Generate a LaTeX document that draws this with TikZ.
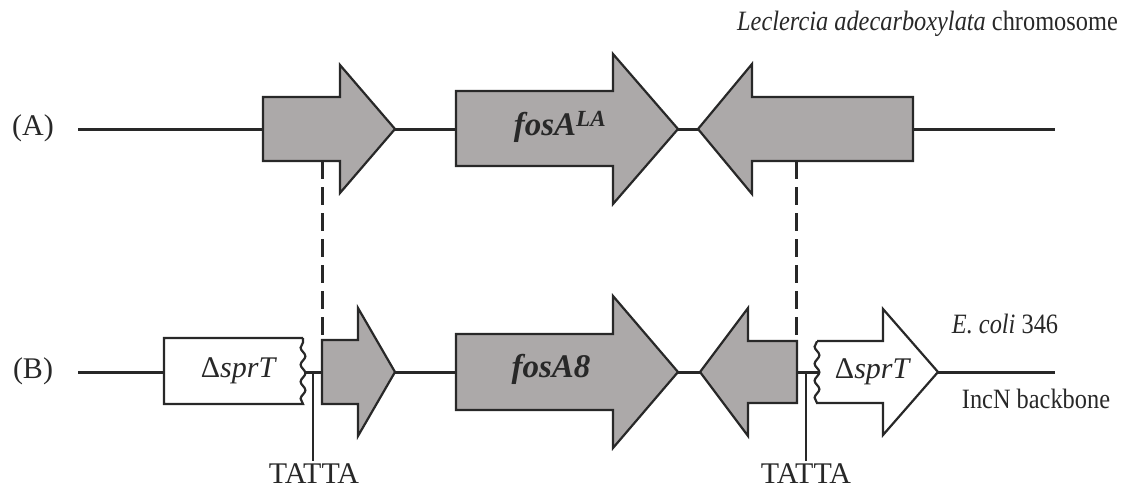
\documentclass[tikz,border=0pt]{standalone}
\usepackage{fontspec}
\setmainfont{Liberation Serif}
\newfontfamily\narrowserif{Liberation Serif}[FakeStretch=0.87]
\usetikzlibrary{decorations.pathmorphing}

\definecolor{genegray}{RGB}{172,169,169}
\definecolor{inkgray}{RGB}{40,40,40}

\tikzset{
  backbone/.style={draw=inkgray, line width=3pt},
  gene/.style={draw=inkgray, line width=2.2pt, fill=genegray, line join=miter},
  truncated/.style={gene, fill=white},
  wavy/.style={decoration={snake, amplitude=2.4pt, segment length=17pt}},
  homology/.style={draw=inkgray, line width=3pt, dash pattern=on 18pt off 8pt},
  tick/.style={draw=inkgray, line width=2.4pt},
  rowlabel/.style={font=\fontsize{30}{36}\selectfont, text=inkgray},
  genelabel/.style={font=\fontsize{33}{40}\selectfont\bfseries\itshape, text=inkgray},
  stubLabel/.style={font=\fontsize{30}{36}\selectfont, text=inkgray},
  note/.style={font=\narrowserif\fontsize{28}{34}\selectfont, text=inkgray, inner sep=0pt},
}

\begin{document}
\begin{tikzpicture}[x=1pt, y=-1pt]
  \useasboundingbox (0,0) rectangle (1125,491);

  % backbones
  \draw[backbone] (78,129) -- (1055,129);
  \draw[backbone] (78,372) -- (1055,372);

  % (A) chromosome
  \draw[gene] (263,97) -- (340,97) -- (340,65) -- (395,129) -- (340,193) -- (340,161) -- (263,161) -- cycle;
  \draw[gene] (456,91) -- (613,91) -- (613,54) -- (678,129) -- (613,204) -- (613,166) -- (456,166) -- cycle;
  \draw[gene] (913,97) -- (752,97) -- (752,64) -- (698,129) -- (752,194) -- (752,161) -- (913,161) -- cycle;

  % (B) plasmid, sprT cut on both sides
  \draw[truncated] (303,338) -- (164,338) -- (164,404) -- (303,404) decorate[wavy]{-- (303,338)};
  \draw[gene] (322,340) -- (358,340) -- (358,308) -- (395,372) -- (358,436) -- (358,404) -- (322,404) -- cycle;
  \draw[gene] (456,334) -- (613,334) -- (613,296) -- (678,372) -- (613,448) -- (613,410) -- (456,410) -- cycle;
  \draw[gene] (797,341) -- (748,341) -- (748,308) -- (700,372) -- (748,436) -- (748,403) -- (797,403) -- cycle;
  \draw[truncated] (817,341) -- (883,341) -- (883,309) -- (938,372) -- (883,435) -- (883,403) -- (817,403) decorate[wavy]{-- (817,341)};

  % labels
  \node[rowlabel] (rowA) at (33,128) {(A)};
  \node[rowlabel] (rowB) at (33,371) {(B)};
  \node[genelabel] (fosLA) at (560,127) {fosA\textsuperscript{LA}};
  \node[genelabel] (fos8) at (551,369) {fosA8};
  \node[stubLabel] (sprL) at (239,371) {Δ\textit{sprT}};
  \node[stubLabel] (sprR) at (873,372) {Δ\textit{sprT}};
  \node[note, anchor=base east] (chrom) at (1118,30) {\itshape Leclercia adecarboxylata\upshape{} chromosome};
  \node[note, anchor=base] (ecoli) at (1005,333) {\textit{E. coli} 346};
  \node[note, anchor=base] (incn) at (1036,408) {IncN backbone};

  % homologous ends
  \coordinate (upL) at (322,161);
  \coordinate (loL) at (322,340);
  \coordinate (upR) at (796,161);
  \coordinate (loR) at (796,341);
  \draw[homology] (upL) -- (loL);
  \draw[homology] (upR) -- (loR);

  % target site duplications
  \coordinate (siteL) at (313,372);
  \coordinate (siteR) at (806,372);
  \node[rowlabel] (tattaL) at (314,474) {TATTA};
  \node[rowlabel] (tattaR) at (806,474) {TATTA};
  \draw[tick] (siteL) -- (siteL |- tattaL.north);
  \draw[tick] (siteR) -- (siteR |- tattaR.north);
\end{tikzpicture}
\end{document}
